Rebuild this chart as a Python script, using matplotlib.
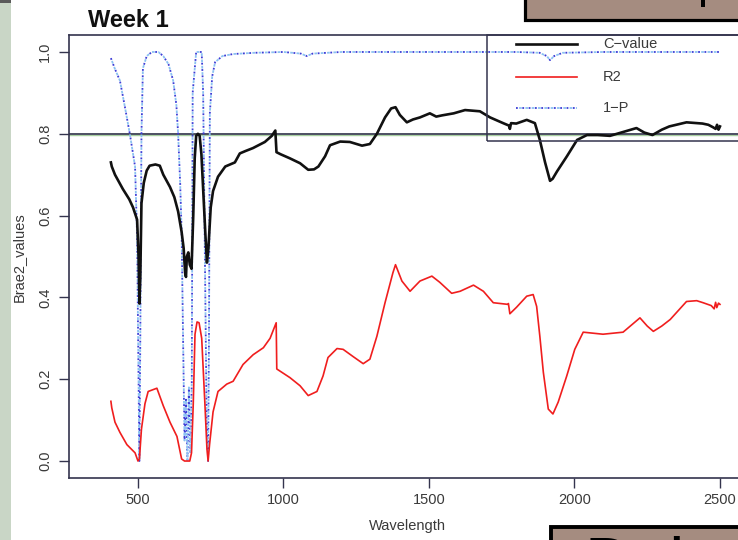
"""Week 1 spectra: C-value, R2 and 1-P against wavelength (R-style base plot)."""
import matplotlib
matplotlib.use("Agg")
import matplotlib.pyplot as plt
from matplotlib.patches import Rectangle

plt.rcParams["font.family"] = ["Liberation Sans", "DejaVu Sans"]
INK, FRAME, GREY = "#111111", "#34344e", "#3a3a3a"
DARKBLUE, LIGHTBLUE, RED = "#3c3cd6", "#8cc2f2", "#f01e1e"

# C-value (black)
wl_c = [407, 410, 421, 448, 470, 483, 497, 502, 505, 508, 512, 520, 530, 540, 560, 575, 587, 610, 625,
        638, 650, 657, 662, 665, 668, 673, 678, 684, 690, 695, 700, 706, 712, 718, 725, 732, 737, 742,
        750, 758, 775, 800, 833, 850, 870, 895, 936, 960, 972, 976, 990, 1022, 1057, 1085, 1105, 1120,
        1143, 1160, 1195, 1228, 1270, 1297, 1321, 1349, 1370, 1385, 1400, 1424, 1445, 1469, 1503, 1525,
        1545, 1585, 1624, 1675, 1710, 1755, 1775, 1778, 1782, 1800, 1836, 1864, 1881, 1899, 1916, 1925,
        1940, 1974, 2009, 2043, 2080, 2122, 2170, 2213, 2240, 2268, 2300, 2326, 2385, 2440, 2460, 2476,
        2485, 2490, 2495, 2500]
c_value = [0.73, 0.72, 0.70, 0.665, 0.64, 0.62, 0.59, 0.50, 0.385, 0.45, 0.63, 0.68, 0.71, 0.722, 0.725,
           0.722, 0.70, 0.67, 0.645, 0.61, 0.56, 0.52, 0.46, 0.45, 0.50, 0.51, 0.48, 0.47, 0.60, 0.74,
           0.795, 0.80, 0.795, 0.75, 0.65, 0.55, 0.485, 0.52, 0.62, 0.66, 0.695, 0.72, 0.73, 0.752, 0.758,
           0.765, 0.78, 0.795, 0.808, 0.755, 0.75, 0.74, 0.728, 0.712, 0.713, 0.72, 0.745, 0.772, 0.781,
           0.78, 0.771, 0.775, 0.80, 0.84, 0.862, 0.865, 0.846, 0.828, 0.835, 0.84, 0.85, 0.842, 0.845,
           0.85, 0.858, 0.855, 0.84, 0.826, 0.82, 0.812, 0.826, 0.825, 0.834, 0.826, 0.785, 0.73, 0.685,
           0.69, 0.708, 0.745, 0.785, 0.797, 0.797, 0.795, 0.805, 0.814, 0.803, 0.797, 0.81, 0.818, 0.828,
           0.825, 0.822, 0.816, 0.812, 0.822, 0.810, 0.818]

# R2 (red)
wl_r = [407, 410, 421, 438, 462, 490, 500, 505, 512, 524, 535, 565, 587, 610, 634, 650, 660, 678, 684,
        690, 696, 703, 710, 719, 730, 737, 741, 746, 758, 775, 805, 827, 861, 896, 931, 954, 975, 977,
        1022, 1057, 1085, 1115, 1136, 1153, 1184, 1205, 1240, 1274, 1297, 1321, 1349, 1376, 1385, 1407,
        1435, 1469, 1510, 1537, 1578, 1607, 1653, 1687, 1721, 1771, 1773, 1778, 1801, 1836, 1858, 1870,
        1881, 1893, 1910, 1926, 1944, 1973, 2001, 2030, 2098, 2167, 2225, 2250, 2271, 2300, 2329, 2385,
        2420, 2442, 2470, 2480, 2485, 2489, 2495, 2500]
r2 = [0.146, 0.13, 0.095, 0.07, 0.04, 0.02, 0.0, 0.005, 0.078, 0.14, 0.17, 0.178, 0.135, 0.095, 0.06,
      0.005, 0.0, 0.0, 0.02, 0.14, 0.31, 0.34, 0.338, 0.30, 0.14, 0.03, 0.0, 0.04, 0.12, 0.17, 0.188,
      0.195, 0.236, 0.26, 0.277, 0.30, 0.338, 0.225, 0.204, 0.184, 0.16, 0.17, 0.208, 0.253, 0.275, 0.273,
      0.255, 0.238, 0.249, 0.305, 0.387, 0.46, 0.48, 0.44, 0.415, 0.44, 0.452, 0.437, 0.41, 0.415, 0.43,
      0.415, 0.387, 0.383, 0.385, 0.36, 0.376, 0.403, 0.407, 0.378, 0.305, 0.217, 0.127, 0.115, 0.144,
      0.207, 0.273, 0.315, 0.31, 0.315, 0.35, 0.33, 0.317, 0.33, 0.346, 0.39, 0.392, 0.387, 0.38, 0.372,
      0.388, 0.375, 0.386, 0.383]

# 1-P (blue dotted)
wl_p = [407, 420, 438, 455, 472, 490, 497, 502, 505, 508, 512, 517, 530, 548, 570, 587, 605, 621, 632,
        638, 645, 650, 655, 660, 665, 670, 675, 680, 685, 688, 700, 719, 724, 730, 736, 741, 744, 747, 755,
        765, 790, 827, 900, 1000, 1060, 1080, 1100, 1200, 1400, 1600, 1800, 1880, 1905, 1916, 1930, 1960,
        2100, 2300, 2500]
one_minus_p = [0.985, 0.96, 0.93, 0.866, 0.80, 0.72, 0.55, 0.2, 0.0, 0.3, 0.8, 0.96, 0.99, 1.0, 1.0, 0.99,
               0.97, 0.93, 0.87, 0.80, 0.68, 0.56, 0.3, 0.05, 0.15, 0.0, 0.18, 0.02, 0.2, 0.9, 1.0, 1.0,
               0.9, 0.5, 0.1, 0.0, 0.3, 0.85, 0.94, 0.975, 0.99, 0.995, 0.998, 1.0, 0.996, 0.99, 0.996,
               1.0, 1.0, 1.0, 1.0, 0.998, 0.99, 0.98, 0.99, 0.998, 1.0, 1.0, 1.0]

x_ticks = [500, 1000, 1500, 2000, 2500]
y_ticks = [0.0, 0.2, 0.4, 0.6, 0.8, 1.0]
threshold = 0.8

W, H = 738, 540
fig = plt.figure(figsize=(W / 100, H / 100), dpi=100)
fig.patch.set_facecolor("white")
# R plot region; right edge runs past the screenshot
ax = fig.add_axes([69 / W, (H - 478) / H, (745 - 69) / W, (478 - 35) / H])
ax.set_xlim(263, 2586); ax.set_ylim(-0.0415, 1.0415)

ax.axhline(threshold - 0.004, color="#a8cfa0", lw=1.0, zorder=1)
ax.axhline(threshold, color="#4c4f62", lw=1.4, zorder=1)
ax.plot(wl_p, one_minus_p, color=DARKBLUE, lw=1.3, ls=(0, (1, 2.5)), zorder=2)
ax.plot(wl_p, one_minus_p, color=LIGHTBLUE, lw=1.3, ls=(1.8, (1.5, 2)), zorder=2)
ax.plot(wl_r, r2, color=RED, lw=1.2, zorder=3)
ax.plot(wl_c, c_value, color=INK, lw=1.9, zorder=4)

for s in ax.spines.values():
    s.set_color(FRAME); s.set_linewidth(1.2)
ax.set_xticks(x_ticks); ax.set_yticks(y_ticks)
ax.set_xticklabels([str(v) for v in x_ticks])
ax.set_yticklabels(["%.1f" % v for v in y_ticks], rotation=90, va="center")
ax.tick_params(direction="out", length=7, width=1.0, color=FRAME, labelsize=10.5, labelcolor=GREY, pad=4)
ax.tick_params(axis="y", pad=5)

# legend box, R style, flush with the top-right corner
ax.add_patch(Rectangle((0.618, 0.761), 0.5, 0.239, transform=ax.transAxes, fill=False,
                       edgecolor=FRAME, lw=1.1, clip_on=False, zorder=5))
legend = [("C\u2212value", INK, "-", 1.9, 0.980), ("R2", RED, "-", 1.2, 0.905),
          ("1\u2212P", DARKBLUE, (0, (1, 2.5)), 1.3, 0.835)]
for label, col, ls, lw, yy in legend:
    ax.plot([0.661, 0.751], [yy, yy], transform=ax.transAxes, color=col, ls=ls, lw=lw, clip_on=False)
    if label == "1\u2212P":
        ax.plot([0.661, 0.751], [yy, yy], transform=ax.transAxes, color=LIGHTBLUE,
                ls=(1.8, (1.5, 2)), lw=lw, clip_on=False)
    ax.text(0.790, yy, label, transform=ax.transAxes, va="center", ha="left", fontsize=10.5, color=GREY)

fig.text(19 / W, 1 - 257 / H, "Brae2_values", rotation=90, ha="center", va="center", fontsize=10.5, color=GREY)
fig.text(407 / W, 1 - 526 / H, "Wavelength", ha="center", va="center", fontsize=10.5, color=GREY)
fig.text(88 / W, 1 - 27 / H, "Week 1", ha="left", va="baseline", fontsize=17, fontweight="bold", color=INK)

# slide decorations around the screenshot
fig.add_artist(Rectangle((0, 0), 11 / W, 1, transform=fig.transFigure, color="#c9d6c6", lw=0))
fig.add_artist(Rectangle((0, 1 - 3 / H), 11 / W, 3 / H, transform=fig.transFigure, color="#5a5a5a", lw=0))
fig.add_artist(Rectangle((525 / W, 1 - 19.5 / H), 230 / W, 30 / H, transform=fig.transFigure,
                         facecolor="#a58c80", edgecolor="black", lw=2.3))
fig.add_artist(Rectangle((701 / W, 1 - 7 / H), 4 / W, 7 / H, transform=fig.transFigure, color="black", lw=0))
fig.add_artist(Rectangle((551 / W, -20 / H), 200 / W, 33.5 / H, transform=fig.transFigure,
                         facecolor="#a58c80", edgecolor="black", lw=2.8))
fig.text(585 / W, 1 - 536 / H, "Del", ha="left", va="top", fontsize=48, color="black")

fig.savefig("out.png", dpi=100)
